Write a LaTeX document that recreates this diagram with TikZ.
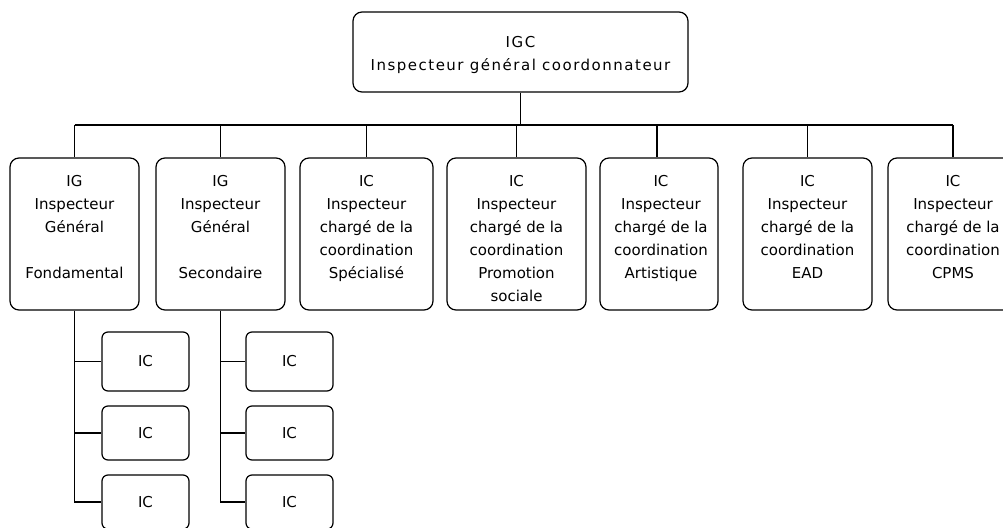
\documentclass[tikz,border=0pt]{standalone}
\usepackage{fontspec}
\setmainfont{DejaVu Sans}
\begin{document}
\begin{tikzpicture}[x=1pt,y=-1pt,
  box/.style={draw, line width=1.2pt, rounded corners=9pt, inner sep=0pt},
  subbox/.style={draw, line width=1.2pt, rounded corners=6pt, inner sep=0pt,
    minimum width=87pt, font=\fontsize{15}{18}\selectfont},
  lbl/.style={align=center, inner sep=0pt, anchor=north, font=\fontsize{15}{23}\selectfont},
  wire/.style={line width=1.2pt}]
\clip (0,0) rectangle (1003,527);
\fill[white] (0,0) rectangle (1003,527);
% top box
\node[box, minimum width=335pt, minimum height=80pt] (top) at (520.5,52) {};
\node[lbl, font=\fontsize{15}{23}\addfontfeatures{LetterSpace=10}\selectfont] (ttop) at (520.5,35.5) {\rule{0pt}{12pt}IGC\\Inspecteur général coordonnateur};
% second row boxes
\node[box, minimum width=129pt, minimum height=152pt] (g1) at (74.5,234) {};
\node[box, minimum width=129pt, minimum height=152pt] (g2) at (220.5,234) {};
\node[box, minimum width=133pt, minimum height=152pt] (g3) at (366.5,234) {};
\node[box, minimum width=139pt, minimum height=152pt] (g4) at (516.5,234) {};
\node[box, minimum width=118pt, minimum height=152pt] (g5) at (659,234) {};
\node[box, minimum width=129pt, minimum height=152pt] (g6) at (807.5,234) {};
\node[box, minimum width=130pt, minimum height=152pt] (g7) at (953,234) {};
\node[lbl] (t1) at (74.5,174.5) {\rule{0pt}{12pt}IG\\Inspecteur\\Général\\\mbox{}\\Fondamental};
\node[lbl] (t2) at (220.5,174.5) {\rule{0pt}{12pt}IG\\Inspecteur\\Général\\\mbox{}\\Secondaire};
\node[lbl] (t3) at (366.5,174.5) {\rule{0pt}{12pt}IC\\Inspecteur\\chargé de la\\coordination\\Spécialisé};
\node[lbl] (t4) at (516.5,174.5) {\rule{0pt}{12pt}IC\\Inspecteur\\chargé de la\\coordination\\Promotion\\sociale};
\node[lbl] (t5) at (661,174.5) {\rule{0pt}{12pt}IC\\Inspecteur\\chargé de la\\coordination\\Artistique};
\node[lbl] (t6) at (807.5,174.5) {\rule{0pt}{12pt}IC\\Inspecteur\\chargé de la\\coordination\\EAD};
\node[lbl] (t7) at (953,174.5) {\rule{0pt}{12pt}IC\\Inspecteur\\chargé de la\\coordination\\CPMS};
% sub boxes
\node[subbox, minimum height=59pt] (s11) at (145.5,361.5) {IC};
\node[subbox, minimum height=54pt] (s12) at (145.5,433) {IC};
\node[subbox, minimum height=54pt] (s13) at (145.5,502) {IC};
\node[subbox, minimum height=59pt] (s21) at (289.5,361.5) {IC};
\node[subbox, minimum height=54pt] (s22) at (289.5,433) {IC};
\node[subbox, minimum height=54pt] (s23) at (289.5,502) {IC};
% connectors
\coordinate (busL) at (74.5,125);
\coordinate (busR) at (953,125);
\draw[wire] (busL) -- (busR);
\draw[wire] (top.south) -- (top.south |- busL);
\foreach \g in {g1,g2,g3,g4,g6,g7}{
  \draw[wire] (\g.north |- busL) -- (\g.north);
}
\coordinate (b5) at (657,125);
\draw[wire] (b5) -- (b5 |- g5.north);
\draw[wire] (g1.south) -- (g1.south |- s13.west) -- (s13.west);
\draw[wire] (g1.south |- s11.west) -- (s11.west);
\draw[wire] (g1.south |- s12.west) -- (s12.west);
\draw[wire] (g2.south) -- (g2.south |- s23.west) -- (s23.west);
\draw[wire] (g2.south |- s21.west) -- (s21.west);
\draw[wire] (g2.south |- s22.west) -- (s22.west);
\end{tikzpicture}
\end{document}
